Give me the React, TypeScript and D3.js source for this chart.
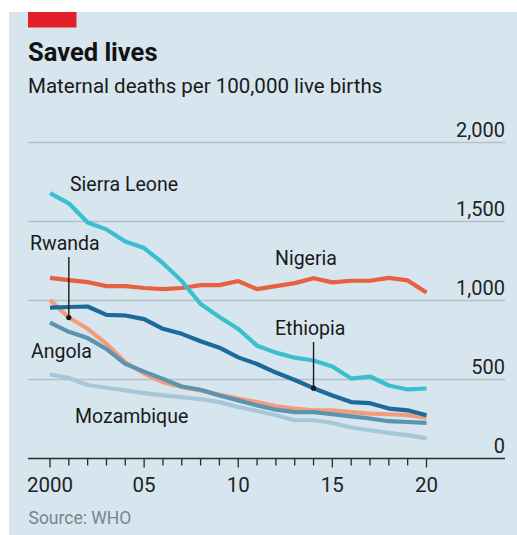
import React from "react";
import * as d3 from "d3";

// years 2000..2020
const years = d3.range(2000, 2021);

const sierraLeone = [1680, 1615, 1494, 1450, 1374, 1332, 1236, 1123, 978, 896, 820, 714, 670, 638, 620, 582, 506, 519, 462, 437, 443];
const nigeria = [1143, 1129, 1116, 1091, 1091, 1079, 1072, 1079, 1097, 1097, 1123, 1072, 1091, 1110, 1141, 1115, 1125, 1125, 1143, 1127, 1050];
const ethiopia = [955, 959, 962, 909, 905, 882, 821, 789, 742, 701, 640, 598, 544, 497, 445, 399, 357, 350, 316, 305, 274];
const rwanda = [1003, 892, 821, 726, 609, 538, 483, 452, 431, 404, 380, 357, 330, 316, 305, 305, 294, 284, 280, 274, 259];
const angola = [860, 802, 762, 693, 599, 550, 504, 456, 435, 399, 368, 336, 309, 294, 294, 280, 267, 253, 236, 231, 225];
const mozambique = [532, 510, 465, 448, 431, 414, 399, 388, 375, 357, 326, 301, 274, 242, 242, 225, 196, 179, 162, 148, 127];

const yTicks = [0, 500, 1000, 1500, 2000];
const xTickLabels = ["2000", "05", "10", "15", "20"];

const series = [
  { name: "Mozambique", values: mozambique, color: "#a7c7d9" },
  { name: "Rwanda", values: rwanda, color: "#f39c7c" },
  { name: "Angola", values: angola, color: "#5a94ae" },
  { name: "Nigeria", values: nigeria, color: "#e8603f" },
  { name: "Sierra Leone", values: sierraLeone, color: "#3bbfd0" },
  { name: "Ethiopia", values: ethiopia, color: "#1b6a9b" },
];

const W = 517;
const H = 535;
const font = "Roboto, 'Noto Sans', sans-serif";

export default function App() {
  const x = d3.scaleLinear().domain([2000, 2020]).range([50, 426.5]);
  const y = d3.scaleLinear().domain([0, 2000]).range([458.5, 142.5]);
  const gridLeft = 28;
  const gridRight = 505;

  const line = d3
    .line<number>()
    .x((d, i) => x(years[i]))
    .y((d) => y(d));

  return (
    <svg
      width={W}
      height={H}
      style={{ position: "absolute", left: 0, top: 0, display: "block" }}
      fontFamily={font}
    >
      <rect x={0} y={0} width={W} height={H} fill="#ffffff" />
      <rect x={9} y={12} width={W - 9} height={H - 12} fill="#d6e5ee" />
      <rect x={28} y={12} width={48.5} height={15.5} fill="#e3202a" />

      <text x={28} y={60.5} fontSize={25.5} fontWeight="bold" fill="#121212">
        Saved lives
      </text>
      <text x={28} y={92.5} fontSize={20.5} fill="#1a1a1a">
        Maternal deaths per 100,000 live births
      </text>

      {yTicks.slice(1).map((t) => (
        <line key={t} x1={gridLeft} x2={gridRight} y1={y(t)} y2={y(t)} stroke="#b3c2ca" strokeWidth={1.4} />
      ))}
      {yTicks.map((t) => (
        <text key={t} x={gridRight} y={y(t) - 6} textAnchor="end" fontSize={20} fill="#222">
          {d3.format(",")(t)}
        </text>
      ))}

      {series.map((s) => (
        <path
          key={s.name}
          d={line(s.values) || ""}
          fill="none"
          stroke={s.color}
          strokeWidth={4.2}
          strokeLinejoin="round"
        />
      ))}

      {/* baseline and ticks */}
      <line x1={gridLeft} x2={gridRight} y1={y(0)} y2={y(0)} stroke="#2a2a2a" strokeWidth={1.6} />
      {years.map((yr) => (
        <line
          key={yr}
          x1={x(yr)}
          x2={x(yr)}
          y1={y(0)}
          y2={y(0) + ((yr % 5 === 0) ? 9 : 7)}
          stroke="#2a2a2a"
          strokeWidth={1.3}
        />
      ))}
      {xTickLabels.map((lab, i) => (
        <text key={lab} x={x(2000 + i * 5)} y={492} textAnchor="middle" fontSize={20.5} fill="#222">
          {lab}
        </text>
      ))}

      {/* labels */}
      <text x={70} y={191} fontSize={19.5} fill="#1a1a1a">Sierra Leone</text>
      <text x={30} y={250} fontSize={19.5} fill="#1a1a1a">Rwanda</text>
      <line x1={x(2001)} x2={x(2001)} y1={257} y2={y(rwanda[1])} stroke="#1a1a1a" strokeWidth={1.4} />
      <circle cx={x(2001)} cy={y(rwanda[1])} r={2.6} fill="#1a1a1a" />
      <text x={31} y={358} fontSize={19.5} fill="#1a1a1a">Angola</text>
      <text x={75} y={423} fontSize={19.5} fill="#1a1a1a">Mozambique</text>
      <text x={275} y={265} fontSize={19.5} fill="#1a1a1a">Nigeria</text>
      <text x={275} y={335} fontSize={19.5} fill="#1a1a1a">Ethiopia</text>
      <line x1={x(2014)} x2={x(2014)} y1={342} y2={y(ethiopia[14])} stroke="#1a1a1a" strokeWidth={1.4} />
      <circle cx={x(2014)} cy={y(ethiopia[14])} r={2.6} fill="#1a1a1a" />

      <text x={28.5} y={524} fontSize={17.5} fill="#76858d">Source: WHO</text>
    </svg>
  );
}
